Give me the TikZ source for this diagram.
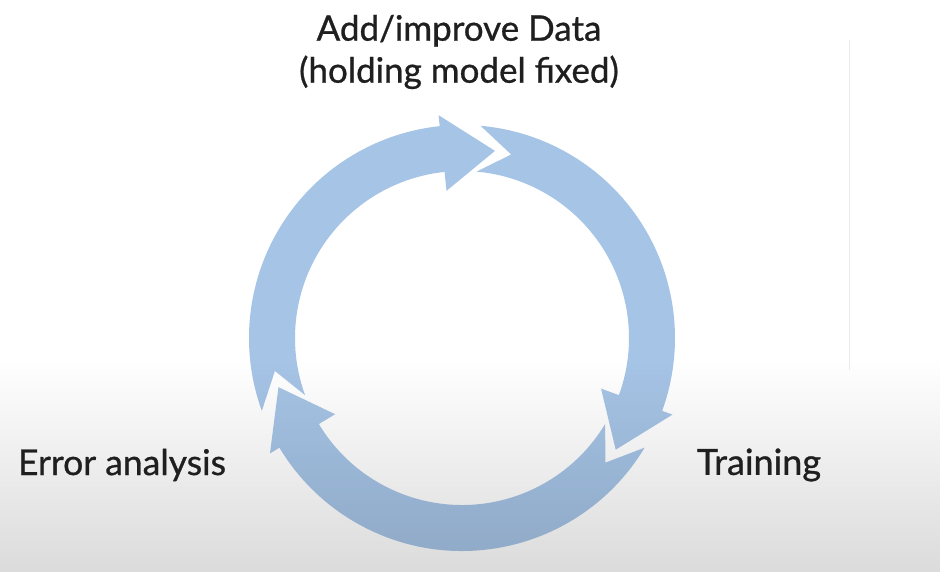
\documentclass[tikz,border=0pt]{standalone}
\usepackage{fontspec}
\setmainfont{Lato}
\newfontfamily\stagefont[FakeBold=0.8]{Lato}
\usetikzlibrary{fadings}

\definecolor{cycleblue}{RGB}{166,196,230}
\definecolor{slideedge}{RGB}{236,236,236}

\tikzset{
  stage label/.style={font=\stagefont\fontsize{36}{42}\selectfont, text=black!88, align=center, inner sep=0pt},
  cycle arrow/.style={fill=cycleblue, draw=none}
}

\begin{document}
\begin{tikzpicture}[x=1pt, y=1pt]
    \useasboundingbox (-462,-234) rectangle (480,338);
    \fill[white] (-462,-234) rectangle (480,338);
    \coordinate (O) at (0,0);

    % faint edge of the slide on the right
    \draw[slideedge, line width=1pt] (387,298) -- (387,-32);

    % three arrows of the cycle: tip of the arrow before / own tip (degrees)
    % shaft between r=167 and r=213, head between r=148 and r=224, 16 degrees long
    \foreach \prev/\tip in {195/80, 80/-36, -36/-165} {
        \fill[cycle arrow] ([shift={(\prev+5:213pt)}]O)
            arc[start angle=\prev+5, end angle=\tip+16, radius=213pt]
            -- ([shift={(\tip+16:224pt)}]O) -- ([shift={(\tip:190pt)}]O)
            -- ([shift={(\tip+16:148pt)}]O) -- ([shift={(\tip+16:167pt)}]O)
            arc[start angle=\tip+16, end angle=\prev+5, radius=167pt]
            -- ([shift={(\prev-5:190pt)}]O) -- cycle;
    }

    % grey shade at the bottom of the slide
    \fill[black, opacity=0.14, path fading=north] (-462,-234) rectangle (480,-22);

    % Labels
    \node[stage label, font=\stagefont\fontsize{35}{42}\selectfont] (data) at (-3,286) {Add/improve Data\\(holding model fixed)};
    \node[stage label] (train) at (297,-127) {Training};
    \node[stage label, font=\stagefont\fontsize{35.5}{42}\selectfont] (error) at (-340,-127) {Error analysis};

\end{tikzpicture}
\end{document}
